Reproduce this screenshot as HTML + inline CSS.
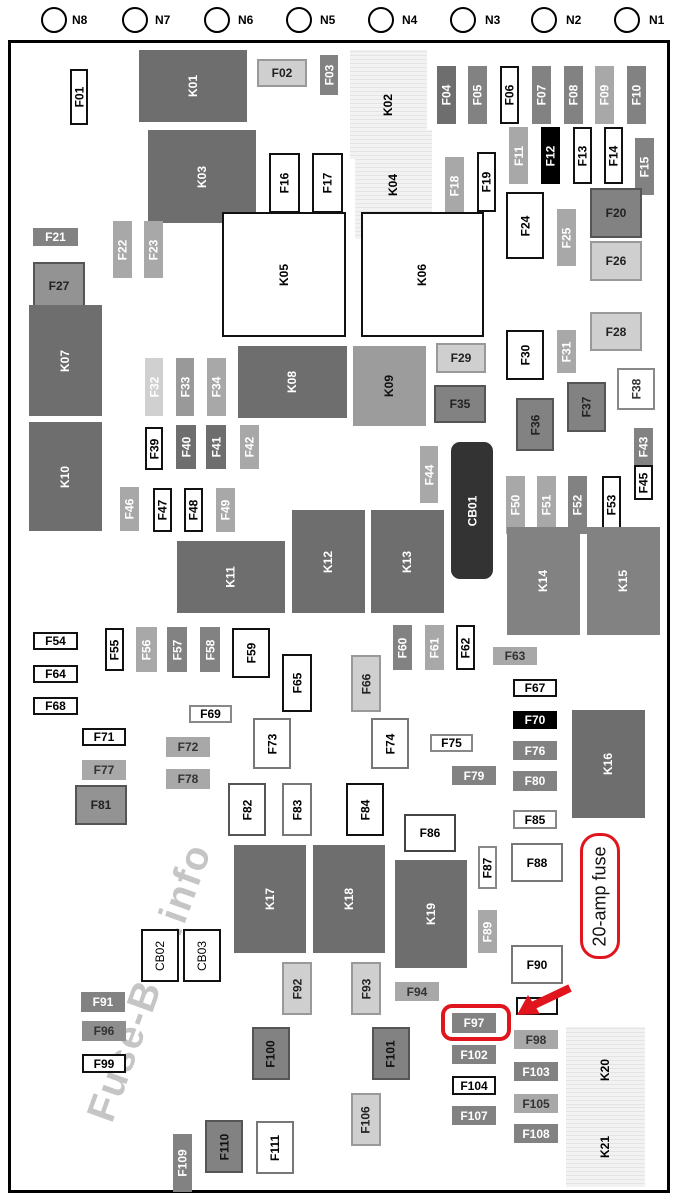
<!DOCTYPE html>
<html><head><meta charset="utf-8"><style>
*{margin:0;padding:0;box-sizing:border-box}
body{width:678px;height:1200px;background:#fff;position:relative;overflow:hidden;font-family:"Liberation Sans",sans-serif}
.b{position:absolute;display:flex;align-items:center;justify-content:center;font-weight:bold;font-size:12px;color:#000}
.v span{transform:rotate(-90deg);white-space:nowrap;display:block}
.w{background:#fff;border:2px solid #111}
.d{background:#6e6e6e;color:#fff}
.m{background:#828282;color:#fff}
.g{background:#a8a8a8;color:#fff}
.l{background:#cfcfcf;border:2px solid #999;color:#222}
.k{background:#000;color:#fff}
.h{background:repeating-linear-gradient(0deg,#f2f2f2 0 3px,#e4e4e4 3px 4px);color:#000}
.bd{border:2px solid #555}
.c{position:absolute;width:26px;height:26px;border:2px solid #000;border-radius:50%;top:7px}
.n{position:absolute;top:13px;font-size:12px;font-weight:bold}
</style></head><body>
<div class="c" style="left:41px"></div><div class="n" style="left:72px">N8</div>
<div class="c" style="left:122px"></div><div class="n" style="left:155px">N7</div>
<div class="c" style="left:204px"></div><div class="n" style="left:238px">N6</div>
<div class="c" style="left:286px"></div><div class="n" style="left:320px">N5</div>
<div class="c" style="left:368px"></div><div class="n" style="left:402px">N4</div>
<div class="c" style="left:450px"></div><div class="n" style="left:485px">N3</div>
<div class="c" style="left:531px"></div><div class="n" style="left:566px">N2</div>
<div class="c" style="left:614px"></div><div class="n" style="left:649px">N1</div>
<div style="position:absolute;left:8px;top:40px;width:662px;height:1153px;border:3px solid #000"></div>
<div style="position:absolute;left:0px;top:960px;width:300px;text-align:center;font-size:40px;font-weight:bold;color:rgba(150,150,150,.55);transform:rotate(-70deg);white-space:nowrap;letter-spacing:2px">Fuse-Box.info</div>

<div class="b v w" style="left:70px;top:69px;width:18px;height:56px"><span>F01</span></div>
<div class="b v d" style="left:139px;top:50px;width:108px;height:72px"><span>K01</span></div>
<div class="b l" style="left:257px;top:59px;width:50px;height:28px">F02</div>
<div class="b v m" style="left:320px;top:55px;width:18px;height:40px"><span>F03</span></div>
<div class="b v h" style="left:350px;top:50px;width:77px;height:109px"><span>K02</span></div>
<div class="b v d" style="left:437px;top:66px;width:19px;height:58px"><span>F04</span></div>
<div class="b v m" style="left:468px;top:66px;width:19px;height:58px"><span>F05</span></div>
<div class="b v w" style="left:500px;top:66px;width:19px;height:58px"><span>F06</span></div>
<div class="b v m" style="left:532px;top:66px;width:19px;height:58px"><span>F07</span></div>
<div class="b v m" style="left:564px;top:66px;width:19px;height:58px"><span>F08</span></div>
<div class="b v g" style="left:595px;top:66px;width:19px;height:58px"><span>F09</span></div>
<div class="b v m" style="left:627px;top:66px;width:19px;height:58px"><span>F10</span></div>
<div class="b v d" style="left:148px;top:130px;width:108px;height:93px"><span>K03</span></div>
<div class="b v w" style="left:269px;top:153px;width:31px;height:60px"><span>F16</span></div>
<div class="b v w" style="left:312px;top:153px;width:31px;height:60px"><span>F17</span></div>
<div class="b v h" style="left:355px;top:130px;width:77px;height:109px"><span>K04</span></div>
<div class="b v g" style="left:445px;top:157px;width:19px;height:57px"><span>F18</span></div>
<div class="b v w" style="left:477px;top:152px;width:19px;height:60px"><span>F19</span></div>
<div class="b v g" style="left:509px;top:127px;width:19px;height:57px"><span>F11</span></div>
<div class="b v k" style="left:541px;top:127px;width:19px;height:57px"><span>F12</span></div>
<div class="b v w" style="left:573px;top:127px;width:19px;height:57px"><span>F13</span></div>
<div class="b v w" style="left:604px;top:127px;width:19px;height:57px"><span>F14</span></div>
<div class="b v m" style="left:635px;top:138px;width:19px;height:57px"><span>F15</span></div>
<div class="b m bd" style="left:590px;top:188px;width:52px;height:50px;color:#222">F20</div>
<div class="b m" style="left:33px;top:228px;width:45px;height:18px">F21</div>
<div class="b v g" style="left:113px;top:221px;width:19px;height:57px"><span>F22</span></div>
<div class="b v g" style="left:144px;top:221px;width:19px;height:57px"><span>F23</span></div>
<div class="b v w" style="left:222px;top:212px;width:124px;height:125px"><span>K05</span></div>
<div class="b v w" style="left:361px;top:212px;width:123px;height:125px"><span>K06</span></div>
<div class="b v w" style="left:506px;top:192px;width:38px;height:67px"><span>F24</span></div>
<div class="b v g" style="left:557px;top:209px;width:19px;height:57px"><span>F25</span></div>
<div class="b l" style="left:590px;top:241px;width:52px;height:40px">F26</div>
<div class="b m bd" style="left:33px;top:262px;width:52px;height:48px;background:#939393;color:#222">F27</div>
<div class="b l" style="left:590px;top:312px;width:52px;height:39px">F28</div>
<div class="b v d" style="left:29px;top:305px;width:73px;height:111px"><span>K07</span></div>
<div class="b v w" style="left:506px;top:330px;width:38px;height:50px"><span>F30</span></div>
<div class="b v g" style="left:557px;top:330px;width:19px;height:43px"><span>F31</span></div>
<div class="b l" style="left:436px;top:343px;width:50px;height:30px">F29</div>
<div class="b v" style="left:145px;top:358px;width:18px;height:58px;background:#d0d0d0;color:#fff"><span>F32</span></div>
<div class="b v g" style="left:176px;top:358px;width:18px;height:58px;background:#999"><span>F33</span></div>
<div class="b v g" style="left:207px;top:358px;width:19px;height:58px"><span>F34</span></div>
<div class="b v d" style="left:238px;top:346px;width:109px;height:72px"><span>K08</span></div>
<div class="b v" style="left:353px;top:346px;width:73px;height:80px;background:#9c9c9c;color:#111"><span>K09</span></div>
<div class="b m bd" style="left:434px;top:385px;width:52px;height:38px;color:#222">F35</div>
<div class="b v m bd" style="left:516px;top:398px;width:38px;height:53px;color:#222"><span>F36</span></div>
<div class="b v m bd" style="left:567px;top:382px;width:39px;height:50px;color:#222"><span>F37</span></div>
<div class="b v" style="left:617px;top:368px;width:38px;height:42px;border:2px solid #888;color:#333"><span>F38</span></div>
<div class="b v w" style="left:145px;top:427px;width:18px;height:43px"><span>F39</span></div>
<div class="b v d" style="left:176px;top:425px;width:20px;height:44px"><span>F40</span></div>
<div class="b v d" style="left:206px;top:425px;width:20px;height:44px"><span>F41</span></div>
<div class="b v g" style="left:240px;top:425px;width:19px;height:44px"><span>F42</span></div>
<div class="b v d" style="left:29px;top:422px;width:73px;height:109px"><span>K10</span></div>
<div class="b v m" style="left:634px;top:428px;width:19px;height:38px"><span>F43</span></div>
<div class="b v w" style="left:634px;top:465px;width:19px;height:35px"><span>F45</span></div>
<div class="b v g" style="left:420px;top:446px;width:18px;height:57px"><span>F44</span></div>
<div class="b v" style="left:451px;top:442px;width:42px;height:137px;background:#333;border-radius:9px;color:#fff"><span>CB01</span></div>
<div class="b v g" style="left:120px;top:487px;width:19px;height:44px"><span>F46</span></div>
<div class="b v w" style="left:153px;top:488px;width:19px;height:44px"><span>F47</span></div>
<div class="b v w" style="left:184px;top:488px;width:19px;height:44px"><span>F48</span></div>
<div class="b v g" style="left:216px;top:488px;width:19px;height:44px"><span>F49</span></div>
<div class="b v g" style="left:506px;top:476px;width:19px;height:58px"><span>F50</span></div>
<div class="b v g" style="left:537px;top:476px;width:19px;height:58px"><span>F51</span></div>
<div class="b v m" style="left:568px;top:476px;width:19px;height:58px"><span>F52</span></div>
<div class="b v w" style="left:602px;top:476px;width:19px;height:58px"><span>F53</span></div>
<div class="b v d" style="left:177px;top:541px;width:108px;height:72px"><span>K11</span></div>
<div class="b v d" style="left:292px;top:510px;width:73px;height:103px"><span>K12</span></div>
<div class="b v d" style="left:371px;top:510px;width:73px;height:103px"><span>K13</span></div>
<div class="b v m" style="left:507px;top:527px;width:73px;height:108px"><span>K14</span></div>
<div class="b v m" style="left:587px;top:527px;width:73px;height:108px"><span>K15</span></div>
<div class="b w" style="left:33px;top:632px;width:45px;height:18px">F54</div>
<div class="b v w" style="left:105px;top:628px;width:19px;height:43px"><span>F55</span></div>
<div class="b v g" style="left:136px;top:627px;width:21px;height:45px"><span>F56</span></div>
<div class="b v m" style="left:167px;top:627px;width:20px;height:45px"><span>F57</span></div>
<div class="b v m" style="left:200px;top:627px;width:20px;height:45px"><span>F58</span></div>
<div class="b v w" style="left:232px;top:628px;width:38px;height:50px"><span>F59</span></div>
<div class="b v m" style="left:393px;top:625px;width:19px;height:45px"><span>F60</span></div>
<div class="b v g" style="left:425px;top:625px;width:19px;height:45px"><span>F61</span></div>
<div class="b v w" style="left:456px;top:625px;width:19px;height:45px"><span>F62</span></div>
<div class="b g" style="left:493px;top:647px;width:44px;height:18px;color:#333">F63</div>
<div class="b v w" style="left:282px;top:654px;width:30px;height:58px"><span>F65</span></div>
<div class="b v l" style="left:351px;top:655px;width:30px;height:57px"><span>F66</span></div>
<div class="b w" style="left:33px;top:665px;width:45px;height:18px">F64</div>
<div class="b w" style="left:513px;top:679px;width:44px;height:18px">F67</div>
<div class="b w" style="left:33px;top:697px;width:45px;height:18px">F68</div>
<div class="b w" style="left:189px;top:705px;width:43px;height:18px;border-color:#888">F69</div>
<div class="b k" style="left:513px;top:711px;width:44px;height:18px">F70</div>
<div class="b w" style="left:82px;top:728px;width:44px;height:18px">F71</div>
<div class="b g" style="left:166px;top:737px;width:44px;height:20px;color:#333">F72</div>
<div class="b v w" style="left:253px;top:718px;width:38px;height:51px;border-color:#777"><span>F73</span></div>
<div class="b v w" style="left:371px;top:718px;width:38px;height:51px;border-color:#777"><span>F74</span></div>
<div class="b w" style="left:430px;top:734px;width:43px;height:18px;border-color:#888">F75</div>
<div class="b m" style="left:513px;top:741px;width:44px;height:19px">F76</div>
<div class="b v d" style="left:572px;top:710px;width:73px;height:108px"><span>K16</span></div>
<div class="b g" style="left:82px;top:760px;width:44px;height:20px;color:#333">F77</div>
<div class="b g" style="left:166px;top:769px;width:44px;height:20px;color:#333">F78</div>
<div class="b m" style="left:452px;top:766px;width:44px;height:19px">F79</div>
<div class="b m" style="left:513px;top:771px;width:44px;height:20px">F80</div>
<div class="b bd" style="left:75px;top:785px;width:52px;height:40px;background:#939393;color:#222">F81</div>
<div class="b v w" style="left:228px;top:783px;width:38px;height:53px;border-color:#555"><span>F82</span></div>
<div class="b v w" style="left:282px;top:783px;width:30px;height:53px;border-color:#777"><span>F83</span></div>
<div class="b v w" style="left:346px;top:783px;width:38px;height:53px"><span>F84</span></div>
<div class="b w" style="left:513px;top:810px;width:44px;height:19px;border-color:#888">F85</div>
<div class="b w" style="left:404px;top:814px;width:52px;height:38px;border-color:#444">F86</div>
<div class="b v w" style="left:478px;top:846px;width:19px;height:43px;border-color:#888"><span>F87</span></div>
<div class="b w" style="left:511px;top:843px;width:52px;height:39px;border-color:#777">F88</div>
<div class="b v d" style="left:234px;top:845px;width:72px;height:108px"><span>K17</span></div>
<div class="b v d" style="left:313px;top:845px;width:72px;height:108px"><span>K18</span></div>
<div class="b v d" style="left:395px;top:860px;width:72px;height:108px"><span>K19</span></div>
<div class="b v g" style="left:478px;top:910px;width:19px;height:43px"><span>F89</span></div>
<div class="b v w" style="left:141px;top:929px;width:38px;height:53px;font-weight:normal"><span>CB02</span></div>
<div class="b v w" style="left:183px;top:929px;width:38px;height:53px;font-weight:normal"><span>CB03</span></div>
<div class="b w" style="left:511px;top:945px;width:52px;height:39px;border-color:#777">F90</div>
<div class="b v l" style="left:282px;top:962px;width:30px;height:53px"><span>F92</span></div>
<div class="b v l" style="left:351px;top:962px;width:30px;height:53px"><span>F93</span></div>
<div class="b g" style="left:395px;top:982px;width:44px;height:19px;color:#333">F94</div>
<div class="b m" style="left:81px;top:992px;width:44px;height:20px">F91</div>
<div class="b w" style="left:516px;top:997px;width:42px;height:18px"></div>
<div class="b m" style="left:452px;top:1013px;width:44px;height:20px">F97</div>
<div style="position:absolute;left:441px;top:1004px;width:70px;height:37px;border:4px solid #e0151d;border-radius:11px"></div>
<svg style="position:absolute;left:0;top:0" width="678" height="1200"><line x1="570" y1="988" x2="532" y2="1006" stroke="#e0151d" stroke-width="8"/><polygon points="517,1015 528,995 540,1014" fill="#e0151d"/></svg>
<div style="position:absolute;left:580px;top:833px;width:40px;height:126px;border:3px solid #e0151d;border-radius:18px;display:flex;align-items:center;justify-content:center"><span style="transform:rotate(-90deg);white-space:nowrap;font-size:18px;color:#111">20-amp fuse</span></div>
<div class="b g" style="left:514px;top:1030px;width:44px;height:19px;color:#333">F98</div>
<div class="b g" style="left:82px;top:1021px;width:44px;height:20px;color:#333;background:#8e8e8e">F96</div>
<div class="b v m bd" style="left:252px;top:1027px;width:38px;height:53px;color:#111"><span>F100</span></div>
<div class="b v m bd" style="left:372px;top:1027px;width:38px;height:53px;color:#111"><span>F101</span></div>
<div class="b m" style="left:452px;top:1045px;width:44px;height:19px">F102</div>
<div class="b w" style="left:82px;top:1054px;width:44px;height:19px">F99</div>
<div class="b m" style="left:514px;top:1062px;width:44px;height:19px">F103</div>
<div class="b w" style="left:452px;top:1076px;width:44px;height:19px">F104</div>
<div class="b v h" style="left:566px;top:1027px;width:79px;height:85px"><span>K20</span></div>
<div class="b v l" style="left:351px;top:1093px;width:30px;height:53px"><span>F106</span></div>
<div class="b g" style="left:514px;top:1094px;width:44px;height:19px;color:#333">F105</div>
<div class="b m" style="left:452px;top:1106px;width:44px;height:19px">F107</div>
<div class="b m" style="left:514px;top:1124px;width:44px;height:19px">F108</div>
<div class="b v h" style="left:566px;top:1107px;width:79px;height:80px"><span>K21</span></div>
<div class="b v m" style="left:173px;top:1134px;width:19px;height:58px"><span>F109</span></div>
<div class="b v m bd" style="left:205px;top:1120px;width:38px;height:53px;color:#111"><span>F110</span></div>
<div class="b v w" style="left:256px;top:1121px;width:38px;height:53px;border-color:#777"><span>F111</span></div>
</body></html>
